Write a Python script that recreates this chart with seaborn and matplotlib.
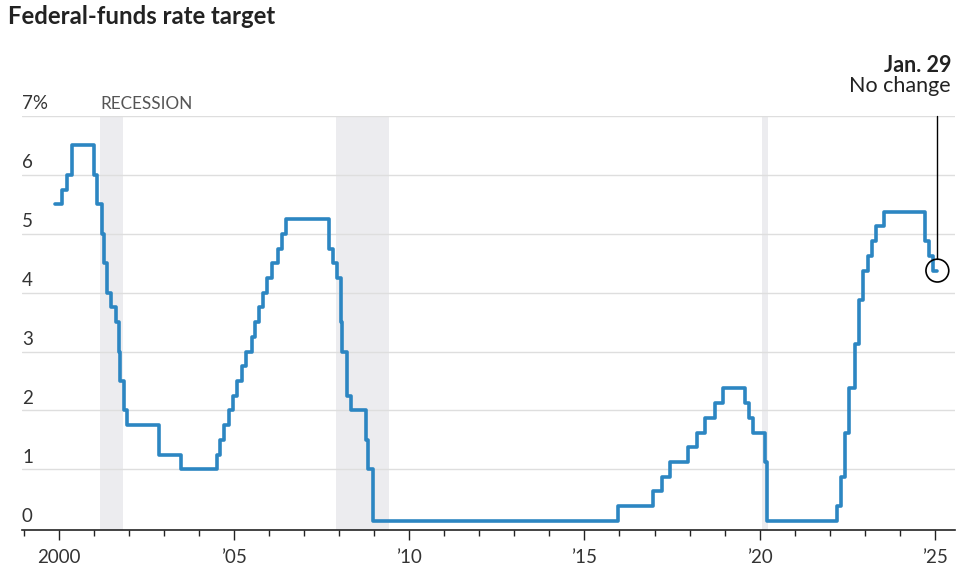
import matplotlib
matplotlib.use("Agg")
import matplotlib.pyplot as plt
import matplotlib.dates as mdates
import seaborn as sns
import pandas as pd

# ---- data: federal-funds target (midpoint of range after Dec 2008) ----
change_dates = [
    "1999-11-16", "2000-02-02", "2000-03-21", "2000-05-16",
    "2001-01-03", "2001-01-31", "2001-03-20", "2001-04-18", "2001-05-15",
    "2001-06-27", "2001-08-21", "2001-09-17", "2001-10-02", "2001-11-06",
    "2001-12-11", "2002-11-06", "2003-06-25",
    "2004-06-30", "2004-08-10", "2004-09-21", "2004-11-10", "2004-12-14",
    "2005-02-02", "2005-03-22", "2005-05-03", "2005-06-30", "2005-08-09",
    "2005-09-20", "2005-11-01", "2005-12-13", "2006-01-31", "2006-03-28",
    "2006-05-10", "2006-06-29",
    "2007-09-18", "2007-10-31", "2007-12-11", "2008-01-22", "2008-01-30",
    "2008-03-18", "2008-04-30", "2008-10-08", "2008-10-29", "2008-12-16",
    "2015-12-16", "2016-12-14", "2017-03-15", "2017-06-14", "2017-12-13",
    "2018-03-21", "2018-06-13", "2018-09-26", "2018-12-19",
    "2019-07-31", "2019-09-18", "2019-10-30", "2020-03-03", "2020-03-15",
    "2022-03-16", "2022-05-04", "2022-06-15", "2022-07-27", "2022-09-21",
    "2022-11-02", "2022-12-14", "2023-02-01", "2023-03-22", "2023-05-03",
    "2023-07-26", "2024-09-18", "2024-11-07", "2024-12-18", "2025-01-29",
]
rates = [
    5.50, 5.75, 6.00, 6.50,
    6.00, 5.50, 5.00, 4.50, 4.00,
    3.75, 3.50, 3.00, 2.50, 2.00,
    1.75, 1.25, 1.00,
    1.25, 1.50, 1.75, 2.00, 2.25,
    2.50, 2.75, 3.00, 3.25, 3.50,
    3.75, 4.00, 4.25, 4.50, 4.75,
    5.00, 5.25,
    4.75, 4.50, 4.25, 3.50, 3.00,
    2.25, 2.00, 1.50, 1.00, 0.125,
    0.375, 0.625, 0.875, 1.125, 1.375,
    1.625, 1.875, 2.125, 2.375,
    2.125, 1.875, 1.625, 1.125, 0.125,
    0.375, 0.875, 1.625, 2.375, 3.125,
    3.875, 4.375, 4.625, 4.875, 5.125,
    5.375, 4.875, 4.625, 4.375, 4.375,
]
recession_starts = ["2001-03-01", "2007-12-01", "2020-02-01"]
recession_ends = ["2001-11-01", "2009-06-01", "2020-04-01"]
y_ticks = [0, 1, 2, 3, 4, 5, 6, 7]
y_labels = ["0", "1", "2", "3", "4", "5", "6", "7%"]
x_label_years = [2000, 2005, 2010, 2015, 2020, 2025]
x_labels = ["2000", "\u201905", "\u201910", "\u201915", "\u201920", "\u201925"]
annot_date = "2025-01-29"
annot_value = 4.375
annot_title = "Jan. 29"
annot_text = "No change"

df = pd.DataFrame({"date": pd.to_datetime(change_dates), "rate": rates})

sns.set_theme(style="white")
plt.rcParams["font.family"] = ["Lato", "DejaVu Sans"]

LINE = "#2c86c2"
GRID = "#dedede"
TXT = "#333333"

fig = plt.figure(figsize=(9.75, 5.7), dpi=100)
ax = fig.add_axes([22 / 975, 40 / 570, (955 - 22) / 975, (530 - 116) / 570])

for s, e in zip(recession_starts, recession_ends):
    ax.axvspan(pd.Timestamp(s), pd.Timestamp(e), color="#ececef", lw=0, zorder=0)

for y in y_ticks[1:]:
    ax.axhline(y, color=GRID, lw=1, zorder=1)

sns.lineplot(data=df, x="date", y="rate", drawstyle="steps-post",
             color=LINE, lw=2.6, ax=ax, zorder=3)

ax.set_xlim(pd.Timestamp("1998-12-10"), pd.Timestamp("2025-08-01"))
ax.set_ylim(-0.03, 7)
ax.set_xlabel("")
ax.set_ylabel("")
for sp in ["top", "right", "left"]:
    ax.spines[sp].set_visible(False)
ax.spines["bottom"].set_color("#222222")
ax.spines["bottom"].set_linewidth(1.2)

ax.xaxis.set_minor_locator(mdates.YearLocator(1))
ax.set_xticks([pd.Timestamp(f"{y}-01-01") for y in x_label_years])
ax.set_xticklabels(x_labels, fontsize=13.5, color=TXT)
ax.tick_params(axis="x", which="major", direction="out", length=7, width=1,
               color="#222222", pad=7, bottom=True)
ax.tick_params(axis="x", which="minor", direction="out", length=4, width=1,
               color="#222222", bottom=True)
ax.set_yticks([])

for y, lab in zip(y_ticks, y_labels):
    ax.text(0.0, y + 0.06, lab, transform=ax.get_yaxis_transform(),
            ha="left", va="bottom", fontsize=13.5, color=TXT)

ax.text(pd.Timestamp("2001-03-10"), 7.06, "RECESSION", ha="left", va="bottom",
        fontsize=12.3, color="#555555")

# annotation
ad = pd.Timestamp(annot_date)
ax.plot([ad, ad], [annot_value + 0.2, 7.0], color="black", lw=1, zorder=4,
        clip_on=False)
ax.scatter([ad], [annot_value], s=270, facecolors="none", edgecolors="black",
           linewidths=1.2, zorder=5, clip_on=False)
fig.text(951 / 975, 1 - 66 / 570, annot_title, ha="right", va="center",
         fontsize=15.5, fontweight="bold", color="#222222")
fig.text(951 / 975, 1 - 86 / 570, annot_text, ha="right", va="center",
         fontsize=15.5, color="#222222")

fig.text(8 / 975, 1 - 16 / 570, "Federal-funds rate target", ha="left",
         va="center", fontsize=17.2, fontweight="bold", color="#222222")

fig.savefig("out.png", dpi=100, facecolor="white")
